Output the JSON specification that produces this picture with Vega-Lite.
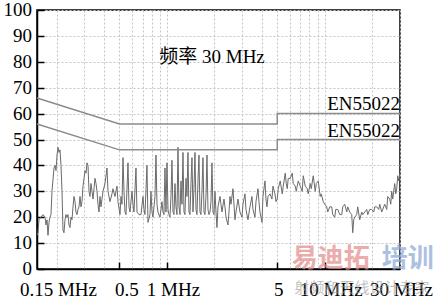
{
  "$schema": "https://vega.github.io/schema/vega-lite/v6.json",
  "width": 363,
  "height": 259,
  "autosize": "none",
  "padding": {"left": 37, "top": 10, "right": 41, "bottom": 31},
  "background": "white",
  "config": {
    "view": {"stroke": "black", "strokeWidth": 1.5},
    "font": "Liberation Serif",
    "axis": {
      "domainColor": "black", "domainWidth": 1.5, "tickColor": "black", "tickWidth": 1.5,
      "labelFont": "Liberation Serif", "labelFontSize": 19, "labelColor": "black", "labelOverlap": false,
      "gridColor": "#c4c4c4", "gridDash": [2, 2], "gridWidth": 1, "title": null
    }
  },
  "datasets": {
    "trace": [
      {"f":0.150,"v":13},{"f":0.1522,"v":14},{"f":0.1544,"v":19},{"f":0.159,"v":20},{"f":0.1637,"v":21},{"f":0.1686,"v":20},{"f":0.171,"v":17},{"f":0.1736,"v":19},{"f":0.1761,"v":13},{"f":0.1787,"v":18},
      {"f":0.1813,"v":20},{"f":0.184,"v":21},{"f":0.1867,"v":30},{"f":0.1922,"v":39},{"f":0.1951,"v":40},{"f":0.1979,"v":38},{"f":0.2009,"v":44},{"f":0.2038,"v":47},{"f":0.2068,"v":45},{"f":0.2098,"v":46},
      {"f":0.2129,"v":40},{"f":0.2161,"v":30},{"f":0.2192,"v":15},{"f":0.2224,"v":14},{"f":0.2257,"v":19},{"f":0.229,"v":21},{"f":0.2324,"v":20},{"f":0.2358,"v":21},{"f":0.2393,"v":17},{"f":0.2428,"v":16},
      {"f":0.2464,"v":20},{"f":0.25,"v":19},{"f":0.2537,"v":24},{"f":0.2574,"v":28},{"f":0.2612,"v":26},{"f":0.265,"v":22},{"f":0.2689,"v":21},{"f":0.2729,"v":23},{"f":0.2769,"v":24},{"f":0.281,"v":28},
      {"f":0.2851,"v":24},{"f":0.2893,"v":26},{"f":0.2936,"v":32},{"f":0.2979,"v":35},{"f":0.3023,"v":38},{"f":0.3067,"v":37},{"f":0.3112,"v":41},{"f":0.3158,"v":40},{"f":0.3204,"v":30},{"f":0.3251,"v":28},
      {"f":0.3299,"v":33},{"f":0.3348,"v":30},{"f":0.3397,"v":27},{"f":0.3447,"v":31},{"f":0.3497,"v":35},{"f":0.3549,"v":33},{"f":0.3601,"v":30},{"f":0.3654,"v":25},{"f":0.3708,"v":22},{"f":0.3762,"v":28},
      {"f":0.3817,"v":24},{"f":0.393,"v":30},{"f":0.4047,"v":33},{"f":0.4167,"v":39},{"f":0.4228,"v":30},{"f":0.4353,"v":26},{"f":0.4482,"v":29},{"f":0.4548,"v":31},{"f":0.4683,"v":28},{"f":0.4821,"v":32},
      {"f":0.4892,"v":26},{"f":0.5037,"v":21},{"f":0.5111,"v":28},{"f":0.5186,"v":25},{"f":0.5262,"v":43},{"f":0.534,"v":30},{"f":0.5418,"v":22},{"f":0.5498,"v":21},{"f":0.5661,"v":41},{"f":0.5744,"v":24},
      {"f":0.5828,"v":22},{"f":0.6001,"v":30},{"f":0.6089,"v":25},{"f":0.6178,"v":22},{"f":0.6361,"v":39},{"f":0.6455,"v":22},{"f":0.6645,"v":21},{"f":0.6842,"v":21},{"f":0.7045,"v":28},{"f":0.7149,"v":23},
      {"f":0.7254,"v":21},{"f":0.7468,"v":40},{"f":0.7579,"v":18},{"f":0.7803,"v":21},{"f":0.7918,"v":30},{"f":0.8034,"v":22},{"f":0.8152,"v":20},{"f":0.8393,"v":28},{"f":0.8517,"v":44},{"f":0.8642,"v":25},
      {"f":0.877,"v":22},{"f":0.9029,"v":20},{"f":0.9296,"v":26},{"f":0.9433,"v":22},{"f":0.9572,"v":21},{"f":0.9712,"v":39},{"f":0.9855,"v":22},{"f":1.0,"v":41},{"f":1.0147,"v":23},{"f":1.0296,"v":21},
      {"f":1.0447,"v":20},{"f":1.0601,"v":28},{"f":1.0757,"v":42},{"f":1.0915,"v":22},{"f":1.1075,"v":21},{"f":1.1238,"v":33},{"f":1.1403,"v":24},{"f":1.1571,"v":21},{"f":1.1741,"v":47},{"f":1.1914,"v":24},
      {"f":1.2089,"v":21},{"f":1.2267,"v":34},{"f":1.2447,"v":25},{"f":1.263,"v":45},{"f":1.2816,"v":22},{"f":1.3004,"v":21},{"f":1.3195,"v":35},{"f":1.339,"v":28},{"f":1.3587,"v":45},{"f":1.3786,"v":22},
      {"f":1.3989,"v":21},{"f":1.4195,"v":33},{"f":1.4404,"v":43},{"f":1.4615,"v":22},{"f":1.483,"v":31},{"f":1.5048,"v":45},{"f":1.5269,"v":23},{"f":1.5494,"v":21},{"f":1.5722,"v":34},{"f":1.5953,"v":44},
      {"f":1.6188,"v":22},{"f":1.6425,"v":21},{"f":1.6666,"v":30},{"f":1.6912,"v":43},{"f":1.7161,"v":22},{"f":1.7413,"v":21},{"f":1.7669,"v":28},{"f":1.7929,"v":44},{"f":1.8193,"v":23},{"f":1.846,"v":21},
      {"f":1.8731,"v":22},{"f":1.9007,"v":26},{"f":1.9286,"v":41},{"f":1.957,"v":22},{"f":1.9858,"v":21},{"f":2.015,"v":30},{"f":2.0446,"v":22},{"f":2.0747,"v":16},{"f":2.1052,"v":24},{"f":2.1675,"v":28},
      {"f":2.2317,"v":22},{"f":2.2978,"v":27},{"f":2.3316,"v":24},{"f":2.3659,"v":20},{"f":2.4359,"v":17},{"f":2.4717,"v":22},{"f":2.508,"v":28},{"f":2.5449,"v":25},{"f":2.6203,"v":31},{"f":2.6979,"v":19},
      {"f":2.7376,"v":22},{"f":2.8186,"v":27},{"f":2.902,"v":22},{"f":2.988,"v":20},{"f":3.0319,"v":25},{"f":3.1217,"v":29},{"f":3.1676,"v":23},{"f":3.2613,"v":19},{"f":3.3579,"v":24},{"f":3.4574,"v":28},
      {"f":3.5082,"v":23},{"f":3.6121,"v":20},{"f":3.6652,"v":26},{"f":3.7737,"v":31},{"f":3.8292,"v":26},{"f":3.8855,"v":22},{"f":4.0006,"v":18},{"f":4.0593,"v":28},{"f":4.1795,"v":34},{"f":4.2409,"v":27},
      {"f":4.3033,"v":24},{"f":4.3666,"v":28},{"f":4.4959,"v":29},{"f":4.629,"v":27},{"f":4.697,"v":32},{"f":4.8361,"v":29},{"f":4.9072,"v":26},{"f":5.0,"v":27},{"f":5.074,"v":31},{"f":5.224,"v":34},
      {"f":5.379,"v":29},{"f":5.458,"v":32},{"f":5.619,"v":37},{"f":5.702,"v":33},{"f":5.786,"v":31},{"f":5.871,"v":35},{"f":6.045,"v":35},{"f":6.224,"v":37},{"f":6.315,"v":33},{"f":6.502,"v":32},
      {"f":6.598,"v":30},{"f":6.794,"v":34},{"f":6.995,"v":32},{"f":7.202,"v":30},{"f":7.308,"v":36},{"f":7.524,"v":32},{"f":7.747,"v":31},{"f":7.861,"v":29},{"f":8.094,"v":33},{"f":8.213,"v":31},
      {"f":8.456,"v":36},{"f":8.707,"v":30},{"f":8.835,"v":33},{"f":9.097,"v":34},{"f":9.366,"v":28},{"f":9.504,"v":29},{"f":9.785,"v":26},{"f":10.0,"v":25},{"f":10.3,"v":24},{"f":10.45,"v":22},
      {"f":10.76,"v":24},{"f":11.08,"v":24},{"f":11.24,"v":21},{"f":11.57,"v":20},{"f":11.74,"v":23},{"f":12.09,"v":23},{"f":12.45,"v":21},{"f":12.82,"v":21},{"f":13.0,"v":24},{"f":13.39,"v":25},
      {"f":13.79,"v":22},{"f":13.99,"v":24},{"f":14.4,"v":22},{"f":14.83,"v":21},{"f":15.05,"v":14},{"f":15.27,"v":19},{"f":15.49,"v":20},{"f":15.95,"v":21},{"f":16.19,"v":24},{"f":16.67,"v":19},
      {"f":17.16,"v":22},{"f":17.41,"v":21},{"f":17.93,"v":22},{"f":18.46,"v":23},{"f":18.73,"v":21},{"f":19.29,"v":23},{"f":19.86,"v":23},{"f":20.45,"v":22},{"f":20.75,"v":24},{"f":21.36,"v":24},
      {"f":21.99,"v":23},{"f":22.32,"v":25},{"f":22.98,"v":22},{"f":23.66,"v":24},{"f":24.01,"v":25},{"f":24.72,"v":23},{"f":25.08,"v":28},{"f":25.82,"v":27},{"f":26.2,"v":25},{"f":26.59,"v":30},
      {"f":26.98,"v":27},{"f":27.78,"v":33},{"f":28.19,"v":29},{"f":28.6,"v":31},{"f":29.02,"v":36},{"f":29.45,"v":34},{"f":30.0,"v":37}
    ],
    "limits": [
      {"lim":"QP","i":1,"f":0.15,"v":66},{"lim":"QP","i":2,"f":0.5,"v":56},{"lim":"QP","i":3,"f":5,"v":56},{"lim":"QP","i":4,"f":5,"v":60},{"lim":"QP","i":5,"f":30,"v":60},
      {"lim":"AV","i":1,"f":0.15,"v":56},{"lim":"AV","i":2,"f":0.5,"v":46},{"lim":"AV","i":3,"f":5,"v":46},{"lim":"AV","i":4,"f":5,"v":50},{"lim":"AV","i":5,"f":30,"v":50}
    ],
    "notes": [
      {"t":"频率  30 MHz","f":1.93,"v":82,"kind":"title"},
      {"t":"EN55022","f":30,"v":61.3,"kind":"limit"},
      {"t":"EN55022","f":30,"v":50.9,"kind":"limit"}
    ],
    "yticks": [
      {"f":0.15,"v":0,"t":"0"},{"f":0.15,"v":10,"t":"10"},{"f":0.15,"v":20,"t":"20"},{"f":0.15,"v":30,"t":"30"},{"f":0.15,"v":40,"t":"40"},{"f":0.15,"v":50,"t":"50"},
      {"f":0.15,"v":60,"t":"60"},{"f":0.15,"v":70,"t":"70"},{"f":0.15,"v":80,"t":"80"},{"f":0.15,"v":90,"t":"90"},{"f":0.15,"v":100,"t":"100"}
    ]
  },
  "encoding": {
    "x": {
      "field": "f", "type": "quantitative",
      "scale": {"type": "log", "domain": [0.15, 30], "nice": false},
      "axis": {
        "values": [0.15, 0.2, 0.3, 0.4, 0.5, 0.6, 0.7, 0.8, 0.9, 1, 2, 3, 4, 5, 6, 7, 8, 9, 10, 20, 30],
        "labelExpr": "datum.value==0.15?'0.15 MHz':datum.value==0.5?'0.5':datum.value==1?'1 MHz':datum.value==5?'5':datum.value==10?'10 MHz':datum.value==30?'30 MHz':''",
        "labelFont": "Liberation Serif", "labelFontSize": 19,
        "labelFlush": false, "labelBound": false, "labelOverlap": false,
        "tickSize": -7, "labelPadding": 18,
        "tickOpacity": {"condition": {"test": "datum.value==0.5||datum.value==1||datum.value==5||datum.value==10", "value": 1}, "value": 0},
        "labelOffset": {"condition": [{"test": "datum.value==0.15", "value": 21}, {"test": "datum.value==0.5", "value": 7}, {"test": "datum.value==1", "value": 6}, {"test": "datum.value==10", "value": 6}], "value": 1},
        "grid": true
      }
    },
    "y": {
      "field": "v", "type": "quantitative",
      "scale": {"domain": [0, 100], "nice": false},
      "axis": {
        "values": [0, 10, 20, 30, 40, 50, 60, 70, 80, 90, 100],
        "labels": false,
        "tickSize": -7, "grid": true
      }
    }
  },
  "layer": [
    {
      "data": {"name": "trace"},
      "mark": {"type": "line", "color": "#6a6a6a", "strokeWidth": 1, "clip": true}
    },
    {
      "data": {"name": "limits"},
      "mark": {"type": "line", "color": "#8c8c8c", "strokeWidth": 1.5},
      "encoding": {
        "detail": {"field": "lim"},
        "order": {"field": "i"}
      }
    },
    {
      "data": {"name": "yticks"},
      "mark": {"type": "text", "font": "Liberation Serif", "fontSize": 19, "align": "right", "baseline": "middle", "dx": -5, "color": "black"},
      "encoding": {"text": {"field": "t"}}
    },
    {
      "data": {"name": "notes"},
      "transform": [{"filter": "datum.kind == 'title'"}],
      "mark": {"type": "text", "font": "Liberation Serif, Noto Sans CJK SC", "fontSize": 19, "align": "center", "baseline": "middle", "color": "black"},
      "encoding": {"text": {"field": "t"}}
    },
    {
      "data": {"name": "notes"},
      "transform": [{"filter": "datum.kind == 'limit'"}],
      "mark": {"type": "text", "font": "Liberation Serif", "fontSize": 19, "align": "right", "baseline": "alphabetic", "color": "black"},
      "encoding": {"text": {"field": "t"}}
    },
    {
      "data": {"values": [{"t": "易迪拓", "f": 10.9, "v": 3.9}]},
      "mark": {"type": "text", "font": "Noto Sans CJK SC", "fontWeight": "bold", "fontSize": 26, "align": "center", "baseline": "middle", "color": "#e38a8a", "opacity": 0.7},
      "encoding": {"text": {"field": "t"}}
    },
    {
      "data": {"values": [{"t": "培训", "f": 33.6, "v": 3.9}]},
      "mark": {"type": "text", "font": "Noto Sans CJK SC", "fontWeight": "bold", "fontSize": 26, "align": "center", "baseline": "middle", "color": "#8aa6d6", "opacity": 0.7},
      "encoding": {"text": {"field": "t"}}
    },
    {
      "data": {"values": [{"t": "射频和天线设计专家", "f": 17.2, "v": -7.3}]},
      "mark": {"type": "text", "font": "Noto Sans CJK SC", "fontSize": 15, "align": "center", "baseline": "middle", "color": "#999999", "opacity": 0.6},
      "encoding": {"text": {"field": "t"}}
    }
  ]
}
